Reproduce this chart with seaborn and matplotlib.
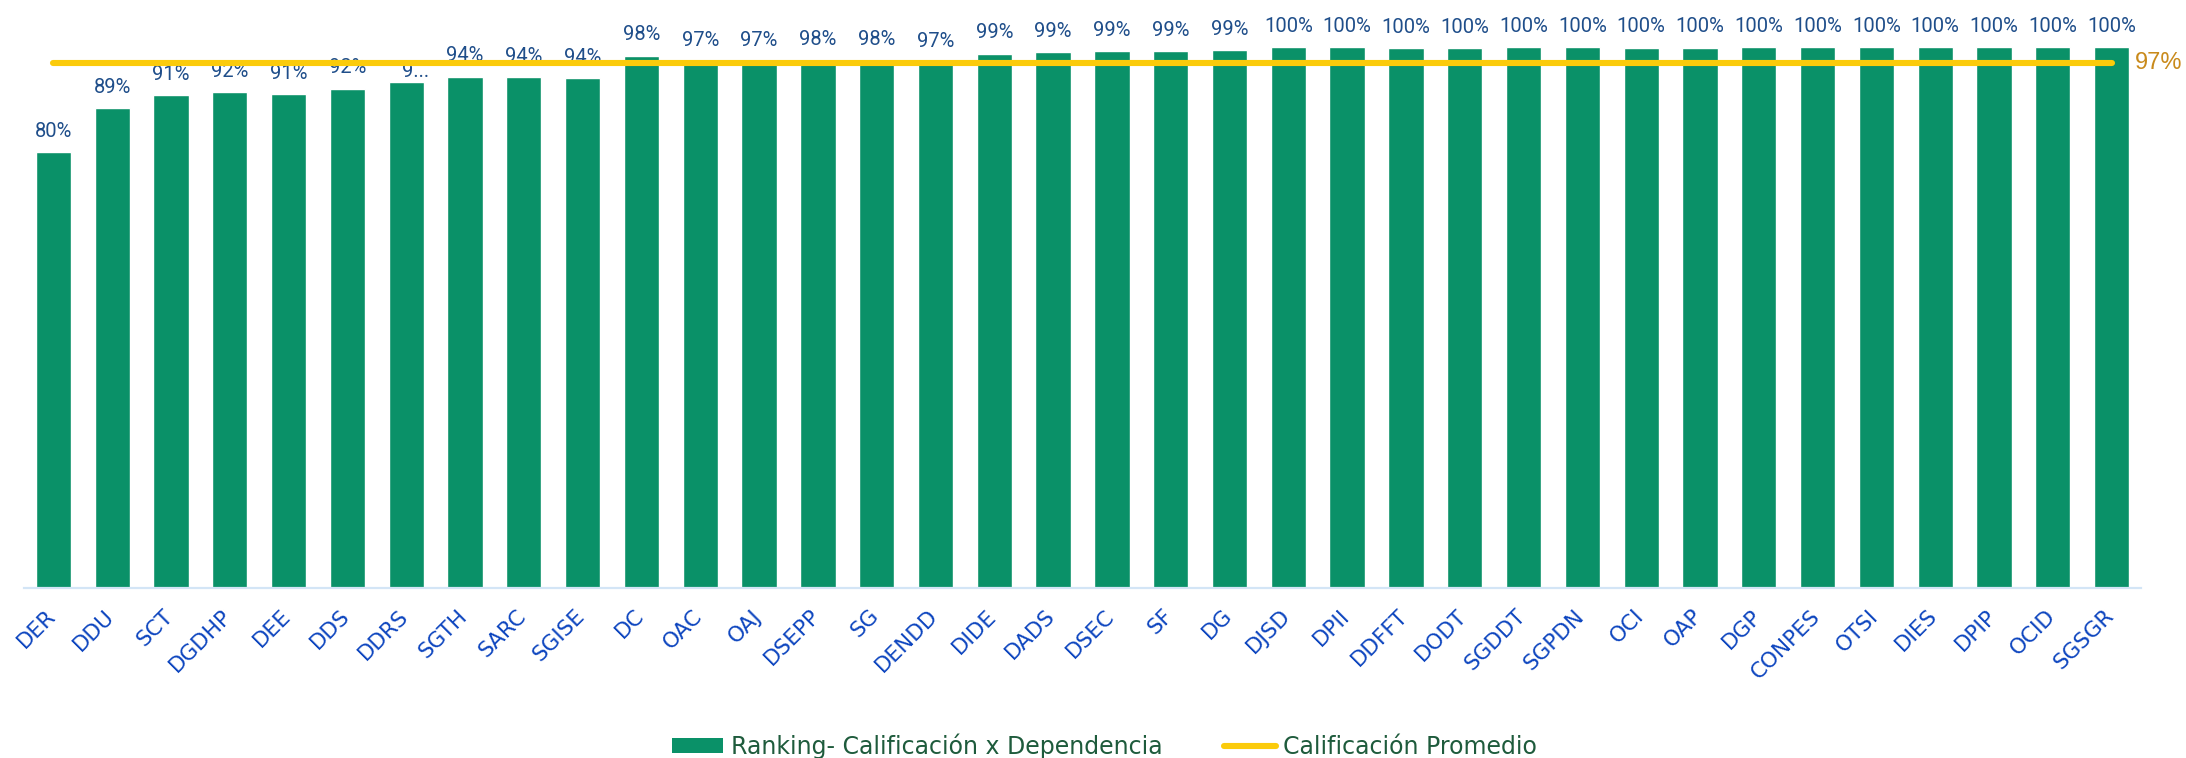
import numpy as np
import pandas as pd
import matplotlib
matplotlib.use('Agg')
import matplotlib.pyplot as plt
import matplotlib.transforms as mtransforms
from matplotlib.patches import Patch
from matplotlib.lines import Line2D
import seaborn as sns

# ── Data ─────────────────────────────────────────────────────────────────────
dependencias = ['DER', 'DDU', 'SCT', 'DGDHP', 'DEE', 'DDS', 'DDRS', 'SGTH', 'SARC', 'SGISE',
                'DC', 'OAC', 'OAJ', 'DSEPP', 'SG', 'DENDD', 'DIDE', 'DADS', 'DSEC', 'SF',
                'DG', 'DJSD', 'DPII', 'DDFFT', 'DODT', 'SGDDT', 'SGPDN', 'OCI', 'OAP', 'DGP',
                'CONPES', 'OTSI', 'DIES', 'DPIP', 'OCID', 'SGSGR']
calificacion = [0.805, 0.887, 0.911, 0.917, 0.913, 0.923, 0.936, 0.945, 0.944, 0.943,
                0.984, 0.973, 0.974, 0.976, 0.976, 0.972, 0.988, 0.990, 0.992, 0.993,
                0.994, 1.000, 1.000, 0.998, 0.998, 1.000, 1.000, 0.999, 0.999, 1.000,
                1.000, 1.000, 1.000, 1.000, 1.000, 1.000]
promedio = 0.97
etiquetas = [f'{v:.0%}' for v in calificacion]
etiquetas[6] = '9...'   # label is cut off in the original

BAR_GREEN = '#0A9168'
LINE_YELLOW = '#FBCB0B'

df = pd.DataFrame({'Dependencia': dependencias, 'Calificacion': calificacion})

sns.set_style('white')
fig = plt.figure(figsize=(21.86, 7.58), dpi=100)
ax = fig.add_axes([24 / 2186, 0.2247, 2117 / 2186, 0.7753])

sns.barplot(data=df, x='Dependencia', y='Calificacion', color=BAR_GREEN,
            saturation=1, width=0.6, ax=ax)
sns.lineplot(x=np.arange(len(dependencias)), y=[promedio] * len(dependencias),
             color=LINE_YELLOW, linewidth=4.4, solid_capstyle='round', ax=ax, zorder=5)

ax.set_xlim(-0.5, len(dependencias) - 0.5)
ax.set_ylim(0, 1.087)
ax.set_xlabel('')
ax.set_ylabel('')
ax.set_yticks([])
for s in ['top', 'right', 'left']:
    ax.spines[s].set_visible(False)
ax.spines['bottom'].set_color('#D3E5F6')
ax.spines['bottom'].set_linewidth(1.6)

# value labels (the truncated one sits lower and a bit to the right)
for i, (v, t) in enumerate(zip(calificacion, etiquetas)):
    off = (6.5, 3) if t.endswith('...') else (0, 11)
    ax.annotate(t, (i, v), xytext=off, textcoords='offset points',
                ha='center', va='baseline', fontsize=14.5, color='#1F4E8A',
                family=['Roboto', 'DejaVu Sans'])

# average label on the right
ax.annotate(f'{promedio:.0%}', (len(dependencias) - 1, promedio), xytext=(17, 0),
            textcoords='offset points', ha='left', va='center', fontsize=17,
            color='#C98A1B', family=['Liberation Sans', 'DejaVu Sans'],
            annotation_clip=False)

# x tick labels
ax.tick_params(axis='x', length=0, pad=13)
offset = mtransforms.ScaledTranslation(-8 / 100, 0, fig.dpi_scale_trans)
for lab in ax.get_xticklabels():
    lab.set_rotation(45)
    lab.set_ha('right')
    lab.set_va('top')
    lab.set_rotation_mode('anchor')
    lab.set_fontsize(15.5)
    lab.set_color('#0D45BF')
    lab.set_transform(lab.get_transform() + offset)

# legend
handles = [Patch(facecolor=BAR_GREEN, edgecolor='none'),
           Line2D([0], [0], color=LINE_YELLOW, linewidth=4.4, solid_capstyle='round')]
leg = fig.legend(handles, ['Ranking- Calificación x Dependencia', 'Calificación Promedio'],
                 loc='center', bbox_to_anchor=(1104 / 2186, 1 - 746 / 758), ncol=2,
                 frameon=False, handlelength=2.2, handleheight=0.55, handletextpad=0.3,
                 columnspacing=2.6, prop={'family': ['DejaVu Sans'], 'size': 17})
for t in leg.get_texts():
    t.set_color('#1E5B3C')

plt.savefig('out.png', dpi=100)
plt.close()
